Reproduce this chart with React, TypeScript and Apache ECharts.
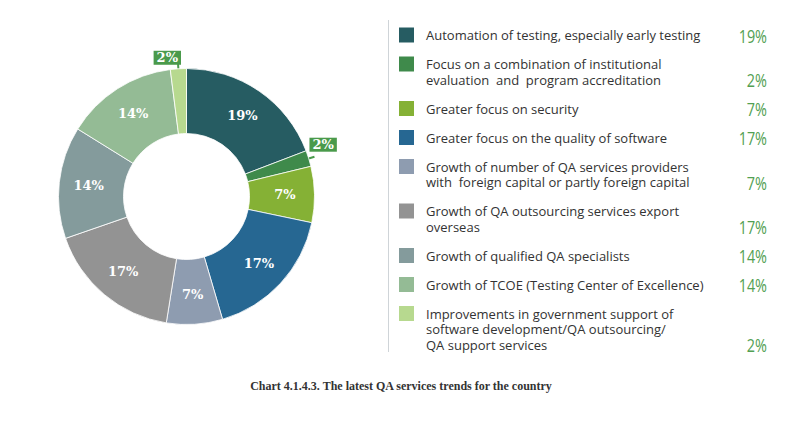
import React, { useEffect, useRef } from "react";
import * as echarts from "echarts";

const categories = [
  "Automation of testing, especially early testing",
  "Focus on a combination of institutional\nevaluation  and  program accreditation",
  "Greater focus on security",
  "Greater focus on the quality of software",
  "Growth of number of QA services providers\nwith  foreign capital or partly foreign capital",
  "Growth of QA outsourcing services export\noverseas",
  "Growth of qualified QA specialists",
  "Growth of TCOE (Testing Center of Excellence)",
  "Improvements in government support of\nsoftware development/QA outsourcing/\nQA support services",
];
const values = [19, 2, 7, 17, 7, 17, 14, 14, 2];
const colors = [
  "#265c62",
  "#3f8a4b",
  "#85b135",
  "#266792",
  "#8e9cb0",
  "#939393",
  "#849b9c",
  "#94bb95",
  "#b7d98f",
];
const caption = "Chart 4.1.4.3. The latest QA services trends for the country";

const CALLOUT_GREEN = "#4a9a4b";
const PCT_GREEN = "#52a052";

export default function App() {
  const ref = useRef<HTMLDivElement>(null);
  useEffect(() => {
    if (!ref.current) return;
    const chart = echarts.init(ref.current, null, { renderer: "svg" });

    const data = values.map((v, i) => {
      const small = v <= 2;
      return {
        name: categories[i],
        value: v,
        itemStyle: { color: colors[i] },
        label: small
          ? {
              position: "outside",
              color: "#fff",
              backgroundColor: CALLOUT_GREEN,
              padding: [1, 3, 0, 3],
              fontFamily: "DejaVu Serif",
              fontWeight: "bold",
              fontSize: 13,
              distanceToLabelLine: 0,
            }
          : undefined,
        labelLine: small
          ? { show: true, length: 6, length2: 0, lineStyle: { color: CALLOUT_GREEN, width: 2 } }
          : { show: false },
      };
    });

    // legend built from the arrays
    const lineH = 15.5;
    const gap = 13.5;
    const graphics: any[] = [
      {
        type: "line",
        shape: { x1: 388.5, y1: 20, x2: 388.5, y2: 352 },
        style: { stroke: "#cfd4d8", lineWidth: 1 },
      },
    ];
    let rowY = 35;
    categories.forEach((cat, i) => {
      const lines = cat.split("\n");
      graphics.push({
        type: "rect",
        shape: { x: 399, y: rowY - 7.5, width: 15, height: 15 },
        style: { fill: colors[i] },
      });
      lines.forEach((ln, j) => {
        graphics.push({
          type: "text",
          x: 426,
          y: rowY + j * lineH,
          style: {
            text: ln,
            fill: "#333",
            fontFamily: "Open Sans",
            fontSize: 13,
            align: "left",
            verticalAlign: "middle",
          },
        });
      });
      graphics.push({
        type: "text",
        x: 767,
        y: rowY + (lines.length - 1) * lineH + 1,
        scaleX: 0.8,
        style: {
          text: values[i] + "%",
          fill: PCT_GREEN,
          fontFamily: "Open Sans",
          fontSize: 18,
          align: "right",
          verticalAlign: "middle",
        },
      });
      rowY += lines.length * lineH + gap;
    });
    graphics.push({
      type: "text",
      x: 401,
      y: 386,
      style: {
        text: caption,
        fill: "#333",
        fontFamily: "Liberation Serif",
        fontWeight: "bold",
        fontSize: 12,
        align: "center",
        verticalAlign: "middle",
      },
    });

    chart.setOption({
      animation: false,
      backgroundColor: "#fff",
      series: [
        {
          type: "pie",
          center: [186.5, 196.5],
          radius: [63, 128],
          startAngle: 90,
          clockwise: true,
          avoidLabelOverlap: false,
          itemStyle: { borderColor: "#fff", borderWidth: 0.8 },
          label: {
            show: true,
            position: "inside",
            formatter: "{c}%",
            color: "#fff",
            fontFamily: "DejaVu Serif",
            fontWeight: "bold",
            fontSize: 13,
          },
          labelLayout: (params: any) => {
            if (params.dataIndex === 1) return { dx: -5, dy: -12 };
            if (params.dataIndex === 8) return { dx: 3, dy: -5 };
            return {};
          },
          emphasis: { disabled: true },
          data,
        },
      ],
      graphic: graphics,
    });
    return () => chart.dispose();
  }, []);
  return (
    <div
      ref={ref}
      style={{ position: "fixed", left: 0, top: 0, width: 800, height: 421 }}
    />
  );
}
